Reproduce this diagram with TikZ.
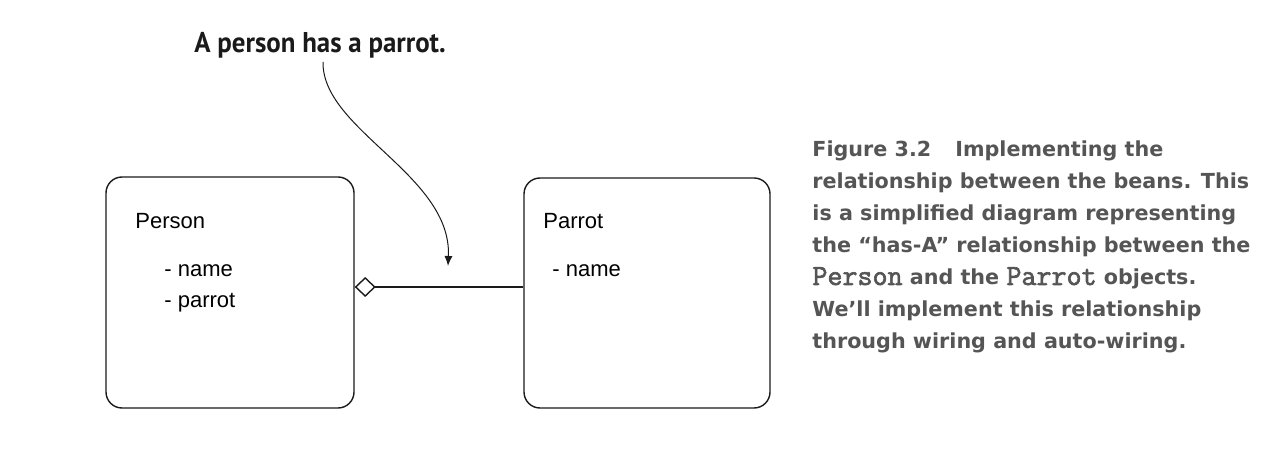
\documentclass[tikz,border=0pt]{standalone}
\usepackage{fontspec}
\setmainfont{Liberation Sans}
\newfontfamily\titlefont[FakeStretch=0.94]{PT Sans}
\newfontfamily\capfont{DejaVu Sans}
\newfontfamily\codefont[FakeBold=2.2]{Latin Modern Mono}
\usetikzlibrary{arrows.meta}
\definecolor{capgray}{HTML}{555555}
\definecolor{inkblack}{HTML}{1A1A1A}
\newcommand{\capcode}[1]{{\codefont\mdseries\fontsize{14.6}{16}\selectfont #1}}

\tikzset{
    classbox/.style={draw=inkblack, rounded corners=8pt, line width=0.7pt},
    member/.style={anchor=base west, inner sep=0pt, font=\fontsize{11}{13}\selectfont},
}

\begin{document}
\begin{tikzpicture}[x=0.5pt, y=-0.5pt]
    \useasboundingbox (0,0) rectangle (1263,459);

    % Class boxes
    \node[classbox, minimum width=124pt, minimum height=115.5pt] (person) at (230,292.5) {};
    \node[classbox, minimum width=123pt, minimum height=115pt] (parrot) at (647,293) {};

    % Class names and fields
    \node[member] (personname) at (135,229) {Person};
    \node[member] (personf1) at (164,277) {- name};
    \node[member] (personf2) at (164,308) {- parrot};
    \node[member] (parrotname) at (543,229) {Parrot};
    \node[member] (parrotf1) at (552,277) {- name};

    % Aggregation link
    \coordinate (link) at (0,287);
    \draw[inkblack, line width=0.7pt, {Diamond[open, length=10.5pt, width=10pt]}-]
        (person.east |- link) -- (parrot.west |- link);

    % Callout
    \node[anchor=base west, inner sep=0pt, text=inkblack, font=\titlefont\bfseries\fontsize{14.3}{16}\selectfont]
        (note) at (194,53) {A person has a parrot.};
    \coordinate (tail) at (323,62);
    \coordinate (tip) at (448,266);
    \draw[inkblack, line width=0.5pt, -{Latex[length=5pt, width=4pt]}]
        (tail) .. controls (322,130) and (452,175) .. (tip);

    % Caption (base is the last line)
    \node[anchor=base west, inner sep=0pt, align=left, text=capgray,
          font=\capfont\bfseries\fontsize{10.35}{16}\selectfont] (caption) at (812,349)
        {Figure 3.2\hspace{12pt}Implementing the\\
         relationship between the beans. This\\
         is a simplified diagram representing\\
         the “has-A” relationship between the\\
         \capcode{Person} and the \capcode{Parrot} objects.\\
         We’ll implement this relationship\\
         through wiring and auto-wiring.};
\end{tikzpicture}
\end{document}
